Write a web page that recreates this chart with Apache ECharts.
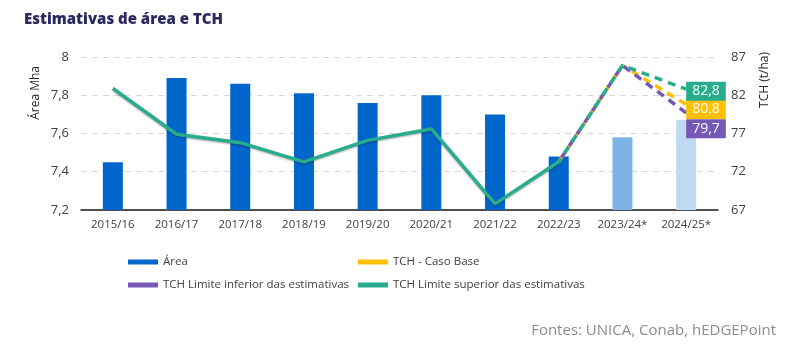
<!DOCTYPE html>
<html>
<head>
<meta charset="utf-8">
<script src="https://cdn.jsdelivr.net/npm/echarts@6/dist/echarts.min.js"></script>
<style>
html,body{margin:0;padding:0;background:#fff;}
#chart{width:790px;height:357px;}
</style>
</head>
<body>
<div id="chart"></div>
<script>
const categories = ['2015/16','2016/17','2017/18','2018/19','2019/20','2020/21','2021/22','2022/23','2023/24*','2024/25*'];
const areaValues = [7.45, 7.89, 7.86, 7.81, 7.76, 7.80, 7.70, 7.48, 7.58, 7.67];
const tchHistorical = [82.9, 76.9, 75.8, 73.3, 76.1, 77.6, 67.8, 73.3, null, null];
const tchBase = [null, null, null, null, null, null, null, 73.3, 85.9, 80.8];
const tchLower = [null, null, null, null, null, null, null, 73.3, 85.9, 79.7];
const tchUpper = [null, null, null, null, null, null, null, 73.3, 85.9, 82.8];
const leftTicks = [7.2, 7.4, 7.6, 7.8, 8];
const rightTicks = [67, 72, 77, 82, 87];

const barColors = ['#0066CC','#0066CC','#0066CC','#0066CC','#0066CC','#0066CC','#0066CC','#0066CC','#7FB3E5','#C0DBF1'];
const GREEN = '#27AD8D', YELLOW = '#FFC000', PURPLE = '#7558B5';
const FONT = 'Open Sans';

const chart = echarts.init(document.getElementById('chart'), null, {renderer:'canvas'});
const fmt = v => String(v).replace('.', ',');

function endLabel(color, dy) {
  return {
    show: true,
    distance: 0,
    offset: [0, dy],
    formatter: p => fmt(p.value),
    color: '#fff',
    fontFamily: FONT,
    fontSize: 14,
    backgroundColor: color,
    padding: [2, 6, 1, 6],
    lineHeight: 16
  };
}

chart.setOption({
  animation: false,
  textStyle: {fontFamily: FONT},
  title: {
    text: 'Estimativas de área e TCH',
    left: 19, top: 7,
    textStyle: {fontFamily: FONT, fontWeight: 800, fontSize: 15, color: '#2B2960'}
  },
  graphic: [
    {type:'text', left: 30, top: 66, rotation: Math.PI/2,
     style:{text:'Área Mha', fontFamily: FONT, fontSize: 12, fill:'#262626'}},
    {type:'text', left: 759, top: 52, rotation: Math.PI/2,
     style:{text:'TCH (t/ha)', fontFamily: FONT, fontSize: 12, fill:'#262626'}},
    {type:'text', right: 14, top: 323,
     style:{text:'Fontes: UNICA, Conab, hEDGEPoint', fontFamily: FONT, fontSize: 15, fill:'#8C8C8C'}}
  ],
  legend: [
    {
      orient: 'vertical', left: 123, top: 251, itemGap: 11,
      itemWidth: 30, itemHeight: 5, icon: 'rect',
      textStyle: {fontFamily: FONT, fontSize: 11.5, color: '#404040'},
      data: ['Área', 'TCH Limite inferior das estimativas']
    },
    {
      orient: 'vertical', left: 353, top: 251, itemGap: 11,
      itemWidth: 30, itemHeight: 5, icon: 'rect',
      textStyle: {fontFamily: FONT, fontSize: 11.5, color: '#404040'},
      data: ['TCH - Caso Base', 'TCH Limite superior das estimativas']
    }
  ],
  grid: {left: 81, right: 72, top: 57, bottom: 147},
  xAxis: {
    type: 'category',
    data: categories,
    axisLine: {lineStyle: {color: '#1a1a1a', width: 1.5}},
    axisTick: {show: false},
    axisLabel: {color: '#404040', fontSize: 11.5, margin: 9, fontFamily: FONT, interval: 0}
  },
  yAxis: [
    {
      type: 'value', min: leftTicks[0], max: leftTicks[leftTicks.length-1], interval: 0.2,
      axisLine: {show: false}, axisTick: {show: false},
      axisLabel: {color: '#404040', fontSize: 13, margin: 12, fontFamily: FONT,
        formatter: v => fmt(Math.round(v*10)/10)},
      splitLine: {lineStyle: {color: '#D9D9D9', type: [6, 5], width: 1}}
    },
    {
      type: 'value', min: rightTicks[0], max: rightTicks[rightTicks.length-1], interval: 5,
      axisLine: {show: false}, axisTick: {show: false},
      axisLabel: {color: '#404040', fontSize: 13, margin: 13, fontFamily: FONT},
      splitLine: {show: false}
    }
  ],
  series: [
    {
      name: 'Área', type: 'bar', barWidth: 20,
      itemStyle: {color: '#0066CC'},
      data: areaValues.map((v, i) => ({value: v, itemStyle: {color: barColors[i]}})),
      z: 2
    },
    {
      name: 'TCH histórico', type: 'line', yAxisIndex: 1, data: tchHistorical,
      symbol: 'none', lineStyle: {color: GREEN, width: 3.5,
        shadowColor: 'rgba(0,0,0,0.35)', shadowBlur: 2, shadowOffsetY: 1},
      itemStyle: {color: GREEN}, z: 5
    },
    {
      name: 'TCH - Caso Base', type: 'line', yAxisIndex: 1, data: tchBase,
      symbol: 'none', lineStyle: {color: YELLOW, width: 3.5, type: [8, 6], dashOffset: 0},
      itemStyle: {color: YELLOW}, endLabel: endLabel(YELLOW, 5), z: 6
    },
    {
      name: 'TCH Limite inferior das estimativas', type: 'line', yAxisIndex: 1, data: tchLower,
      symbol: 'none', lineStyle: {color: PURPLE, width: 3.5, type: [8, 6], dashOffset: 9},
      itemStyle: {color: PURPLE}, endLabel: endLabel(PURPLE, 16), z: 6
    },
    {
      name: 'TCH Limite superior das estimativas', type: 'line', yAxisIndex: 1, data: tchUpper,
      symbol: 'none', lineStyle: {color: GREEN, width: 3.5, type: [8, 6], dashOffset: 4},
      itemStyle: {color: GREEN}, endLabel: endLabel(GREEN, 2), z: 7
    }
  ]
});
</script>
</body>
</html>
